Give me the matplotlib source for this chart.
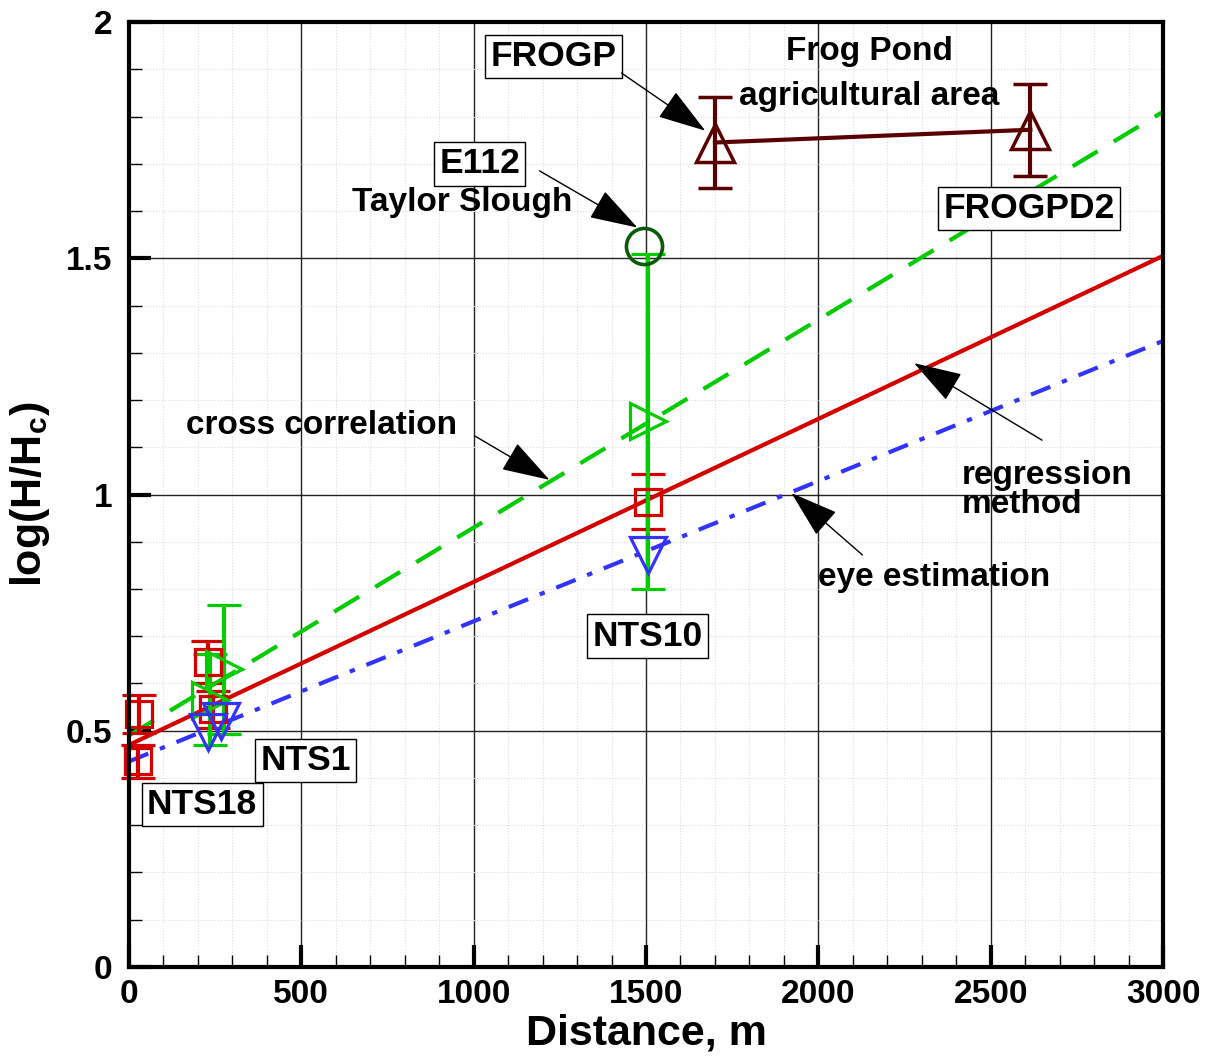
import numpy as np
import matplotlib.pyplot as plt
from matplotlib.ticker import MultipleLocator, FormatStrFormatter

plt.rcParams['font.family'] = ['Liberation Sans', 'DejaVu Sans']
plt.rcParams['font.weight'] = 'bold'
plt.rcParams['mathtext.fontset'] = 'custom'
plt.rcParams['mathtext.rm'] = 'Liberation Sans:bold'
plt.rcParams['mathtext.bf'] = 'Liberation Sans:bold'

# fitted lines, read at x = 0 and x = 3000
line_x = [0, 3000]
reg_line = [0.47, 1.505]
cc_line = [0.49, 1.81]
eye_line = [0.435, 1.325]

# regression method (red squares)
reg_x = [30, 25, 230, 245, 1505]
reg_y = [0.535, 0.435, 0.645, 0.545, 0.985]
reg_err = [0.04, 0.035, 0.045, 0.04, 0.058]

# cross correlation (green triangles)
cc_x = [235, 275, 1505]
cc_y = [0.566, 0.63, 1.155]
cc_err = [0.097, 0.137, 0.354]

# eye estimation (blue triangles)
eye_x = [229, 268, 1505]
eye_y = [0.497, 0.52, 0.872]

# E112, Taylor Slough
e112_x = [1495]
e112_y = [1.527]

# Frog Pond wells
frog_x = [1700, 2615]
frog_y = [1.745, 1.772]
frog_err = [0.096, 0.097]

red = '#d40000'
green = '#00cc00'
blue = '#3333ff'
dkgreen = '#0a5a0a'
maroon = '#5a0000'

fig = plt.figure(figsize=(12.25, 10.59), dpi=100)
ax = fig.add_axes([0.1053, 0.0869, 0.8441, 0.8923])

ax.plot(line_x, cc_line, color=green, lw=3, dashes=(7, 4.5), zorder=3)
ax.plot(line_x, reg_line, color=red, lw=3, zorder=3)
ax.plot(line_x, eye_line, color=blue, lw=3, dashes=(5, 3, 1.3, 3), zorder=3)

reg = ax.errorbar(reg_x, reg_y, yerr=reg_err, fmt='s', ms=19, mfc='none', mec=red, mew=2.3,
                  ecolor=red, elinewidth=3, capsize=12, capthick=3, zorder=4)
for art in [reg.lines[0], *reg.lines[1], *reg.lines[2]]:
    art.set_clip_on(False)
ax.errorbar(cc_x, cc_y, yerr=cc_err, fmt='>', ms=26, mfc='none', mec=green, mew=2.3,
            ecolor=green, elinewidth=3, capsize=12, capthick=3, zorder=4)
ax.plot(eye_x, eye_y, 'v', ms=26, mfc='none', mec=blue, mew=2.3, zorder=5)
ax.plot(e112_x, e112_y, 'o', ms=26, mfc='none', mec=dkgreen, mew=2.6, zorder=5)
ax.errorbar(frog_x, frog_y, yerr=frog_err, fmt='^-', ms=28, mfc='none', mec=maroon, mew=2.5,
            color=maroon, lw=3, ecolor=maroon, elinewidth=3, capsize=12, capthick=3, zorder=4)

ax.set_xlim(0, 3000)
ax.set_ylim(0, 2)
ax.xaxis.set_major_locator(MultipleLocator(500))
ax.xaxis.set_minor_locator(MultipleLocator(100))
ax.yaxis.set_major_locator(MultipleLocator(0.5))
ax.yaxis.set_minor_locator(MultipleLocator(0.1))
ax.yaxis.set_major_formatter(FormatStrFormatter('%g'))
ax.grid(which='major', color='#222222', lw=1)
ax.grid(which='minor', color='#dddddd', lw=0.8, ls=':')
ax.set_axisbelow(True)
ax.tick_params(which='major', direction='in', length=16, width=3, labelsize=24, pad=9)
ax.tick_params(axis='y', which='major', pad=12)
ax.tick_params(which='minor', direction='in', length=9, width=1)
for lab in ax.get_xticklabels() + ax.get_yticklabels():
    lab.set_fontweight('bold')
for sp in ax.spines.values():
    sp.set_linewidth(3)
    sp.set_zorder(5)

ax.set_xlabel('Distance, m', fontsize=31, fontweight='bold', labelpad=2)
ax.set_ylabel(r'log(H/H$_{\mathbf{c}}$)', fontsize=31, fontweight='bold', labelpad=10)

box = dict(boxstyle='square,pad=0.15', fc='white', ec='black', lw=1)
bfont = dict(fontsize=25.5, fontweight='bold', ha='center', va='center', zorder=6)
tfont = dict(fontsize=24, fontweight='bold', ha='center', va='center', zorder=6)

ax.text(1232, 1.927, 'FROGP', bbox=box, **bfont)
ax.text(2612, 1.605, 'FROGPD2', bbox=box, **bfont)
ax.text(1017, 1.70, 'E112', bbox=box, **bfont)
ax.text(1504, 0.70, 'NTS10', bbox=box, **bfont)
ax.text(513, 0.437, 'NTS1', bbox=box, **bfont)
ax.text(212, 0.344, 'NTS18', bbox=box, **bfont)

ax.text(968, 1.618, 'Taylor Slough', **tfont)
ax.text(2148, 1.938, 'Frog Pond', **tfont)
ax.text(2148, 1.843, 'agricultural area', **tfont)
ax.text(559, 1.147, 'cross correlation', **tfont)
ax.text(2417, 1.01, 'regression\nmethod', fontsize=24, fontweight='bold', ha='left',
        va='center', linespacing=0.92)
ax.text(2000, 0.824, 'eye estimation', fontsize=24, fontweight='bold', ha='left', va='center')

arrows = [
    ((1429, 1.892), (1672, 1.770)),
    ((1191, 1.685), (1475, 1.565)),
    ((1003, 1.124), (1220, 1.031)),
    ((2649, 1.115), (2278, 1.278)),
    ((2128, 0.872), (1922, 1.003)),
]
for start, tip in arrows:
    ax.annotate('', xy=tip, xytext=start, zorder=6,
                arrowprops=dict(arrowstyle='-|>,head_length=1.4,head_width=0.45',
                                mutation_scale=22, lw=1, color='black',
                                shrinkA=0, shrinkB=0))

fig.savefig('out.png', dpi=100)
